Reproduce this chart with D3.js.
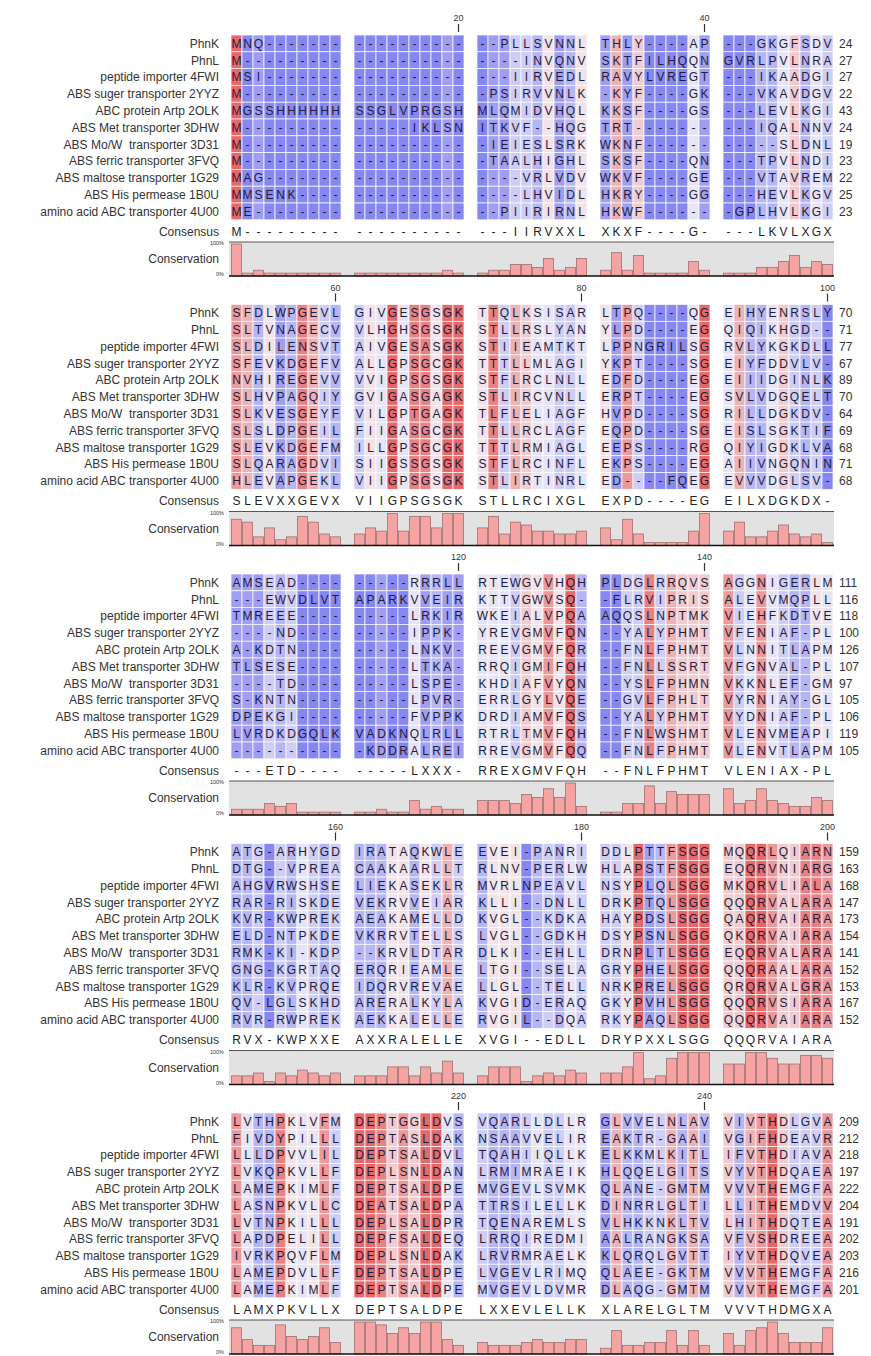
<!DOCTYPE html>
<html><head><meta charset="utf-8">
<script src="https://cdn.jsdelivr.net/npm/d3@7"></script>
<style>
body{margin:0;background:#fff}
text{font-family:"Liberation Sans",Arial,sans-serif}
</style>
</head><body>
<svg id="chart" width="871" height="1356"></svg>
<script>
// ---------- DATA ----------
const names = ["PhnK","PhnL","peptide importer 4FWI","ABS suger transporter 2YYZ","ABC protein Artp 2OLK",
  "ABS Met transporter 3DHW","ABS Mo/W  transporter 3D31","ABS ferric transporter 3FVQ",
  "ABS maltose transporter 1G29","ABS His permease 1B0U","amino acid ABC transporter 4U00"];

// each sequence: 5 blocks of 50 columns (groups of 10 separated by spaces)
const seqPhnK = ["MNQ------- ---------- --PLLSVNNL THLY----AP ---GKGFSDV","SFDLWPGEVL GIVGESGSGK TTQLKSISAR LTPQ----QG EIHYENRSLY","AMSEAD---- -----RRRLL RTEWGVVHQH PLDGLRRQVS AGGNIGERLM","ATG-ARHYGD IRATAQKWLE EVEI-PANRI DDLPTTFSGG MQQRLQIARN","LVTHPKLVFM DEPTGGLDVS VQARLLDLLR GLVVELNLAV VIVTHDLGVA"];
const seqPhnL = ["M--------- ---------- ----INVQNV SKTFILHQQN GVRLPVLNRA","SLTVNAGECV VLHGHSGSGK STLLRSLYAN YLPD----EG QIQIKHGD--","---EWVDLVT APARKVVEIR KTTVGWVSQ- -FLRVIPRIS ALEVVMQPLL","DTG--VPREA CAAKAARLLT RLNV-PERLW HLAPSTFSGG EQQRVNIARG","FIVDYPILLL DEPTASLDAK NSAAVVELIR EAKTR-GAAI VGIFHDEAVR"];
const seq4FWI = ["MSI------- ---------- ---IIRVEDL RAVYLVREGT ---IKAADGI","SLDILENSVT AIVGESASGK STIIEAMTKT LPPNGRILSG RVLYKGKDLL","TMREEE---- -----LRKIR WKEIALVPQA AQQSLNPTMK VIEHFKDTVE","AHGVRWSHSE LIEKASEKLR MVRLNPEAVL NSYPLQLSGG MKQRVLIALA","LLLDPVVLIL DEPTSALDVL TQAHIIQLLK ELKKMLKITL IFVTHDIAVA"];
const seq2YYZ = ["M--------- ---------- -PSIRVVNLK -KYF----GK ---VKAVDGV","SFEVKDGEFV ALLGPSGCGK TTTLLMLAGI YKPT----SG EIYFDDVLV-","----ND---- -----IPPK- YREVGMVFQN --YALYPHMT VFENIAF-PL","RAR-RISKDE VEKRVVEIAR KLLI--DNLL DRKPTQLSGG QQQRVALARA","LVKQPKVLLF DEPLSNLDAN LRMIMRAEIK HLQQELGITS VYVTHDQAEA"];
const seq2OLK = ["MGSSHHHHHH SSGLVPRGSH MLQMIDVHQL KKSF----GS ---LEVLKGI","NVHIREGEVV VVIGPSGSGK STFLRCLNLL EDFD----EG EIIIDGINLK","A-KDTN---- -----LNKV- REEVGMVFQR --FNLFPHMT VLNNITLAPM","KVR-KWPREK AEAKAMELLD KVGL--KDKA HAYPDSLSGG QAQRVAIARA","LAMEPKIMLF DEPTSALDPE MVGEVLSVMK QLANE-GMTM VVVTHEMGFA"];
const seq3DHW = ["M--------- -----IKLSN ITKVF--HQG TRT------- ---IQALNNV","SLHVPAGQIY GVIGASGAGK STLIRCVNLL ERPT----EG SVLVDGQELT","TLSESE---- -----LTKA- RRQIGMIFQH --FNLLSSRT VFGNVAL-PL","ELD-NTPKDE VKRRVTELLS LVGL--GDKH DSYPSNLSGG QKQRVAIARA","LASNPKVLLC DEATSALDPA TTRSILELLK DINRRLGLTI LLITHEMDVV"];
const seq3D31 = ["M--------- ---------- -IEIESLSRK WKNF------ -----SLDNL","SLKVESGEYF VILGPTGAGK TLFLELIAGF HVPD----SG RILLDGKDV-","----TD---- -----LSPE- KHDIAFVYQN --YSLFPHMN VKKNLEF-GM","RMK-KI-KDP --KRVLDTAR DLKI--EHLL DRNPLTLSGG EQQRVALARA","LVTNPKILLL DEPLSALDPR TQENAREMLS VLHKKNKLTV LHITHDQTEA"];
const seq3FVQ = ["M--------- ---------- -TAALHIGHL SKSF----QN ---TPVLNDI","SLSLDPGEIL FIIGASGCGK TTLLRCLAGF EQPD----SG EISLSGKTIF","S-KNTN---- -----LPVR- ERRLGYLVQE --GVLFPHLT VYRNIAY-GL","GNG-KGRTAQ ERQRIEAMLE LTGI--SELA GRYPHELSGG QQQRAALARA","LAPDPELILL DEPFSALDEQ LRRQIREDMI AALRANGKSA VFVSHDREEA"];
const seq1G29 = ["MAG------- ---------- ----VRLVDV WKVF----GE ---VTAVREM","SLEVKDGEFM ILLGPSGCGK TTTLRMIAGL EEPS----RG QIYIGDKLVA","DPEKGI---- -----FVPPK DRDIAMVFQS --YALYPHMT VYDNIAF-PL","KLR-KVPRQE IDQRVREVAE LLGL--TELL NRKPRELSGG QRQRVALGRA","IVRKPQVFLM DEPLSNLDAK LRVRMRAELK KLQRQLGVTT IYVTHDQVEA"];
const seq1B0U = ["MMSENK---- ---------- ----LHVIDL HKRY----GG ---HEVLKGV","SLQARAGDVI SIIGSSGSGK STFLRCINFL EKPS----EG AIIVNGQNIN","LVRDKDGQLK VADKNQLRLL RTRLTMVFQH --FNLWSHMT VLENVMEAPI","QV-LGLSKHD ARERALKYLA KVGID-ERAQ GKYPVHLSGG QQQRVSIARA","LAMEPDVLLF DEPTSALDPE LVGEVLRIMQ QLAEE-GKTM VVVTHEMGFA"];
const seq4U00 = ["ME-------- ---------- --PIIRIRNL HKWF------ -GPLHVLKGI","HLEVAPGEKL VIIGPSGSGK STLIRTINRL ED----FQEG EVVVDGLSV-","---------- -KDDRALREI RREVGMVFQQ --FNLFPHMT VLENVTLAPM","RVR-RWPREK AEKKALELLE RVGIL--DQA RKYPAQLSGG QQQRVAIARA","LAMEPKIMLF DEPTSALDPE MVGEVLDVMR DLAQG-GMTM VVVTHEMGFA"];

const consensus = ["M--------- ---------- ---IIRVXXL XKXF----G- ---LKVLXGX","SLEVXXGEVX VIIGPSGSGK STLLRCIXGL EXPD----EG EILXDGKDX-","---ETD---- -----LXXX- RREXGMVFQH --FNLFPHMT VLENIAX-PL","RVX-KWPXXE AXXRALELLE XVGI--EDLL DRYPXXLSGG QQQRVAIARA","LAMXPKVLLX DEPTSALDPE LXXEVLELLK XLARELGLTM VVVTHDMGXA"];

// conservation (%) per column
const cons1 = [100,9,18,9,9,9,9,9,9,9, 9,9,9,9,9,9,9,9,18,9, 9,18,18,36,36,27,55,18,27,55, 18,73,18,64,9,9,9,9,45,18, 9,9,9,27,27,45,64,27,45,36];
const cons2 = [82,73,27,55,18,27,91,73,36,27, 36,55,45,100,45,91,91,55,100,100, 55,91,36,73,64,45,45,36,36,45, 55,18,82,36,9,9,9,9,45,100, 45,73,27,27,45,64,36,27,36,9];
const cons3 = [18,18,18,36,27,36,9,9,9,9, 9,9,18,9,9,45,18,27,18,18, 45,45,45,36,64,55,82,55,100,27, 9,9,36,36,91,36,73,64,64,64, 82,36,45,82,45,36,27,27,55,45];
const cons4 = [27,27,36,9,36,27,45,36,27,36, 27,27,27,55,55,27,55,36,73,36, 27,55,55,55,9,27,36,27,45,36, 36,36,55,100,18,27,82,100,100,100, 64,64,100,100,82,64,64,91,91,82];
const cons5 = [82,45,27,27,91,55,45,55,82,36, 100,100,91,64,82,64,100,100,45,27, 36,27,27,27,36,45,36,36,45,45, 18,73,27,27,36,36,73,27,73,27, 64,27,73,82,100,64,36,36,36,82];

const endNumbers = [[24,27,27,22,43,24,19,23,22,25,23],[70,71,77,67,89,70,64,69,68,71,68],[111,116,118,100,126,107,97,105,106,119,105],[159,163,168,147,173,154,141,152,153,167,152],[209,212,218,197,222,204,191,202,203,216,201]];
const tickLabels = [[20,40],[60,80,100],[120,140],[160,180,200],[220,240]];

// ---------- BUILD ----------
const seqs = [seqPhnK,seqPhnL,seq4FWI,seq2YYZ,seq2OLK,seq3DHW,seq3D31,seq3FVQ,seq1G29,seq1B0U,seq4U00];
const consAll = [cons1,cons2,cons3,cons4,cons5];
const svg = d3.select("#chart");

const ROWH = 16.8, BLOCKPITCH = 269.5, TOP0 = 35;
const groupX = d3.scaleLinear().domain([0,1]).range([231,354]);
const cellX = d3.scaleBand().domain(d3.range(10)).range([0,110]);
const colX = i => groupX(Math.floor(i/10)) + cellX(i%10);
const rowY = d3.scaleBand().domain(d3.range(11)).range([0, 11*ROWH]);
const color = d3.scaleLinear().domain([9,50,100])
  .range(["#8787f1","#f3f1f7","#e76868"]).interpolate(d3.interpolateRgb).clamp(true);

for (let b=0;b<5;b++){
  const top = TOP0 + b*BLOCKPITCH;
  const g = svg.append("g").attr("transform",`translate(0,${top})`);
  const cons = consAll[b];
  const startCol = b*50;

  // ticks
  tickLabels[b].forEach(t=>{
    const i = t-1-startCol;
    const cx = colX(i)+cellX.bandwidth()/2;
    g.append("text").attr("x",cx).attr("y",-14).attr("text-anchor","middle")
      .attr("font-size",9).attr("fill","#333").text(t);
    g.append("line").attr("x1",cx).attr("x2",cx).attr("y1",-11).attr("y2",-3)
      .attr("stroke","#333").attr("stroke-width",1.2);
  });

  // rows
  seqs.forEach((s,r)=>{
    const str = s[b].replace(/ /g,"");
    const y0 = rowY(r);
    g.append("text").attr("x",219).attr("y",y0+ROWH/2+4.3).attr("text-anchor","end")
      .attr("font-size",12).attr("fill","#333").style("white-space","pre").text(names[r]);
    const cells = g.append("g");
    cells.selectAll("rect").data(str.split("")).join("rect")
      .attr("x",(d,i)=>colX(i)).attr("y",y0).attr("width",cellX.bandwidth()).attr("height",ROWH)
      .attr("fill",(d,i)=>color(cons[i])).attr("stroke","#fff").attr("stroke-width",0.7);
    cells.selectAll("text").data(str.split("")).join("text")
      .attr("x",(d,i)=>colX(i)+cellX.bandwidth()/2).attr("y",y0+ROWH/2+4.3)
      .attr("text-anchor","middle").attr("font-size",12).attr("fill","#1e1e3c").text(d=>d);
    g.append("text").attr("x",839).attr("y",y0+ROWH/2+4.3).attr("font-size",12)
      .attr("fill","#333").text(endNumbers[b][r]);
  });

  // consensus
  const cy = 11*ROWH + 16;
  g.append("text").attr("x",219).attr("y",cy).attr("text-anchor","end")
    .attr("font-size",12).attr("fill","#333").text("Consensus");
  const cstr = consensus[b].replace(/ /g,"");
  g.append("g").selectAll("text").data(cstr.split("")).join("text")
    .attr("x",(d,i)=>colX(i)+cellX.bandwidth()/2).attr("y",cy)
    .attr("text-anchor","middle").attr("font-size",12).attr("fill","#222").text(d=>d);

  // conservation panel
  const pTop = 207, pBot = 241;
  const yC = d3.scaleLinear().domain([0,100]).range([pBot, pTop+2]);
  g.append("rect").attr("x",229).attr("y",pTop).attr("width",605).attr("height",pBot-pTop)
    .attr("fill","#e2e2e2");
  g.append("g").selectAll("rect").data(cons).join("rect")
    .attr("x",(d,i)=>colX(i)+0.5).attr("width",cellX.bandwidth()-1)
    .attr("y",d=>yC(d)).attr("height",d=>pBot-yC(d))
    .attr("fill","#f6a3a3").attr("stroke","#a07070").attr("stroke-width",0.8);
  g.append("line").attr("x1",229).attr("x2",834).attr("y1",pTop).attr("y2",pTop)
    .attr("stroke","#555").attr("stroke-width",1);
  g.append("line").attr("x1",229).attr("x2",834).attr("y1",pBot).attr("y2",pBot)
    .attr("stroke","#111").attr("stroke-width",1.3);
  g.append("text").attr("x",219).attr("y",(pTop+pBot)/2+4).attr("text-anchor","end")
    .attr("font-size",12).attr("fill","#333").text("Conservation");
  g.append("text").attr("x",224).attr("y",pTop+3).attr("text-anchor","end")
    .attr("font-size",5.5).attr("fill","#333").text("100%");
  g.append("text").attr("x",224).attr("y",pBot).attr("text-anchor","end")
    .attr("font-size",5.5).attr("fill","#333").text("0%");
}
</script>
</body></html>
